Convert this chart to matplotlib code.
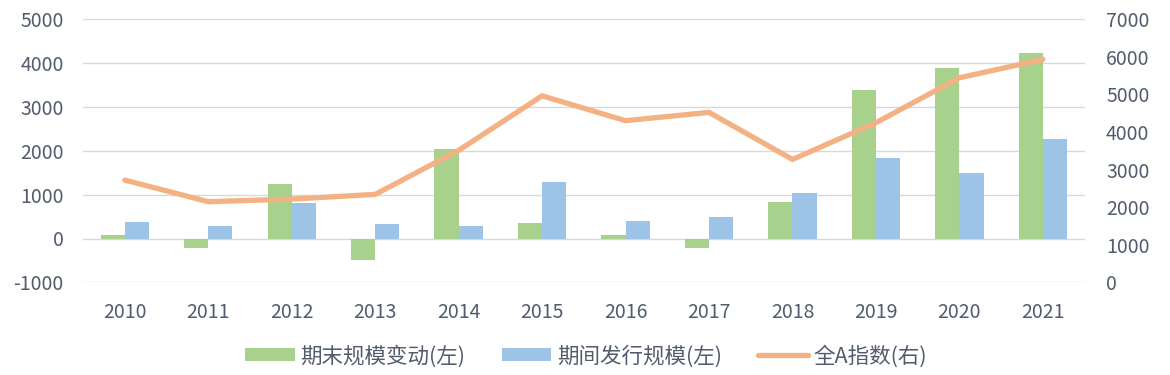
import matplotlib
matplotlib.use("Agg")
import matplotlib.pyplot as plt
import numpy as np
from matplotlib.patches import Patch
from matplotlib.lines import Line2D

plt.rcParams['font.family'] = ['Noto Sans CJK SC', 'DejaVu Sans']
plt.rcParams['axes.unicode_minus'] = False

years = ['2010', '2011', '2012', '2013', '2014', '2015', '2016', '2017', '2018', '2019', '2020', '2021']
change_scale = [85, -225, 1245, -500, 2045, 360, 85, -225, 840, 3390, 3875, 4220]
issue_scale = [380, 295, 820, 330, 295, 1295, 410, 495, 1030, 1835, 1490, 2265]
index_a = [2720, 2145, 2215, 2340, 3510, 4960, 4300, 4520, 3270, 4245, 5440, 5930]

green = '#A9D18E'
blue = '#9DC3E6'
orange = '#F4B183'
txt = '#525C6C'

fig = plt.figure(figsize=(11.7, 3.75), dpi=100)
ax = fig.add_axes([0.071, 0.247, 0.856, 0.702])
ax2 = ax.twinx()

x = np.arange(len(years))
w = 0.29
ax.bar(x - w / 2, change_scale, w, color=green, zorder=3)
ax.bar(x + w / 2, issue_scale, w, color=blue, zorder=3)
ax2.plot(x, index_a, color=orange, lw=3.8, solid_capstyle='round', solid_joinstyle='miter', zorder=4)

ax.set_xlim(-0.5, len(years) - 0.5)
ax.set_ylim(-1000, 5000)
ax.set_yticks(range(-1000, 5001, 1000))
ax2.set_ylim(0, 7000)
ax2.set_yticks(range(0, 7001, 1000))

ax.set_xticks(x)
ax.set_xticklabels(years)
ax.grid(axis='y', color='#D9D9D9', lw=1.0, zorder=0)
ax.set_axisbelow(True)

for a in (ax, ax2):
    for s in a.spines.values():
        s.set_visible(False)
    a.tick_params(length=0, labelsize=14, colors=txt)
ax.tick_params(axis='x', pad=14)
ax.tick_params(axis='y', pad=14)
ax2.tick_params(axis='y', pad=15.5)

ax2.set_zorder(ax.get_zorder() + 1)
ax2.patch.set_visible(False)

handles = [Patch(facecolor=green, edgecolor='none'),
           Patch(facecolor=blue, edgecolor='none'),
           Line2D([0], [0], color=orange, lw=3.8, solid_capstyle='round')]
labels = ['期末规模变动(左)', '期间发行规模(左)', '全A指数(右)']
fig.legend(handles, labels, loc='center', bbox_to_anchor=(586 / 1170, 19 / 375), ncol=3,
           frameon=False, fontsize=15.5, labelcolor=txt, handlelength=2.3, handleheight=0.55,
           handletextpad=0.25, columnspacing=1.7, borderpad=0, borderaxespad=0)

fig.savefig('out.png', dpi=100)
